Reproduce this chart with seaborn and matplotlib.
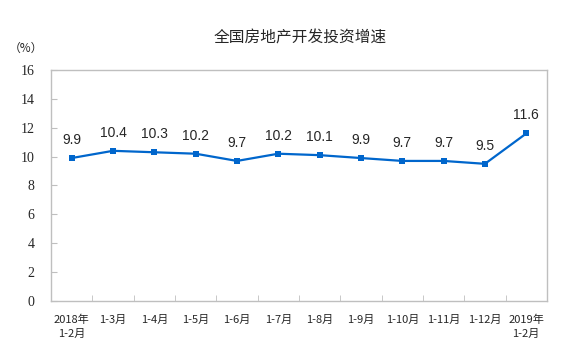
import matplotlib
matplotlib.use("Agg")
import matplotlib.pyplot as plt
from matplotlib.ticker import FixedLocator
import seaborn as sns
import pandas as pd
import numpy as np

categories = ["2018年\n1-2月", "1-3月", "1-4月", "1-5月", "1-6月", "1-7月",
              "1-8月", "1-9月", "1-10月", "1-11月", "1-12月", "2019年\n1-2月"]
values = [9.9, 10.4, 10.3, 10.2, 9.7, 10.2, 10.1, 9.9, 9.7, 9.7, 9.5, 11.6]
yticks = [0, 2, 4, 6, 8, 10, 12, 14, 16]
title = "全国房地产开发投资增速"

sns.set_style("white")
plt.rcParams['font.family'] = ['Noto Sans CJK SC', 'DejaVu Sans']

df = pd.DataFrame({"pos": np.arange(len(categories)), "cat": categories, "val": values})

fig = plt.figure(figsize=(5.7, 3.55), dpi=100)
ax = fig.add_axes([0.0895, 0.152, 0.870, 0.651])
color = "#0066CC"
sns.lineplot(data=df, x="pos", y="val", ax=ax, color=color, marker="s",
             markersize=5, markeredgewidth=0, linewidth=1.6)

ax.set_xlim(-0.5, len(categories) - 0.5)
ax.set_ylim(0, 16)
ax.set_yticks(yticks)
ax.set_yticklabels([str(t) for t in yticks], family=['Liberation Serif'], fontsize=10)
ax.set_xticks(df["pos"])
ax.set_xticklabels(categories, fontsize=8, linespacing=1.5)
ax.xaxis.set_minor_locator(FixedLocator(np.arange(0.5, len(categories) - 0.5, 1)))
ax.tick_params(axis="x", which="major", length=0, pad=10)
ax.tick_params(axis="x", which="minor", direction="in", length=4, color="#BFBFBF", bottom=True)
ax.tick_params(axis="y", direction="in", length=4, color="#BFBFBF", left=True, pad=12)
ax.set_xlabel("")
ax.set_ylabel("")
for s in ax.spines.values():
    s.set_color("#BFBFBF")
    s.set_linewidth(1)

for x, v in zip(df["pos"], df["val"]):
    ax.annotate(f"{v:.1f}", (x, v), xytext=(0, 8), textcoords="offset points",
                ha="center", va="bottom", fontsize=10, family=['Liberation Sans'])

fig.text(0.527, 0.894, title, ha="center", va="center", fontsize=11.3)
fig.text(0.046, 0.865, "（%）", ha="center", va="center", fontsize=8.5)

fig.savefig("out.png", dpi=100)
